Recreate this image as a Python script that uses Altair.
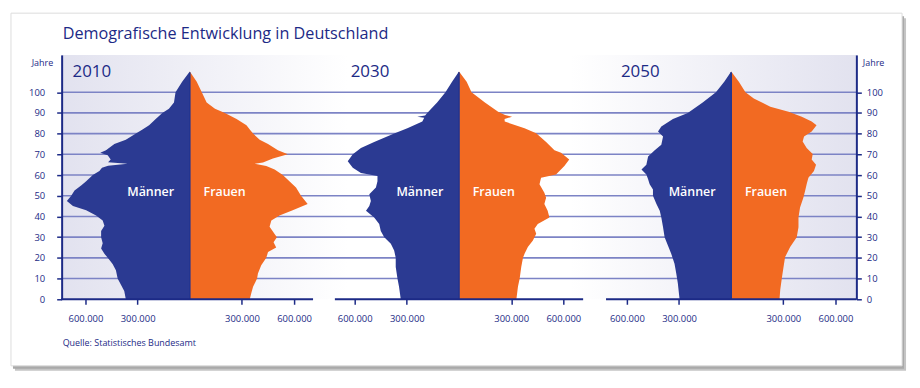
import altair as alt
import pandas as pd

# ---------------- data (population in thousands) ----------------
years = ["2010", "2030", "2050"]

ages_m_2010 = [0, 4, 7, 10, 14, 17, 20, 22, 24.5, 27, 30, 33, 35.5, 38, 40.5, 43, 45, 47.5, 50, 52.5,
               55, 57, 60, 62, 63.5, 64.5, 65.4, 66.2, 67.5, 69.5, 70.7, 72, 75, 77, 80, 82, 84, 87,
               90, 92, 95, 100, 105, 110]
men_2010 = [368, 377, 396, 415, 425, 444, 472, 491, 510, 501, 510, 510, 491, 501, 539, 596, 672, 707, 682, 663,
            625, 596, 558, 520, 505, 470, 358, 470, 455, 472, 515, 482, 434, 368, 310, 272, 234, 196,
            158, 120, 91, 82, 44, 0]

ages_f_2010 = [0, 3, 6, 10, 12.4, 16.4, 20, 22.8, 25, 27.6, 30, 35, 38, 40.4, 43, 46, 50, 54, 57, 60,
               62.7, 64.3, 65.4, 66, 68, 70, 72, 75, 77, 80, 82, 84, 87, 90, 92, 95, 100, 105, 110]
women_2010 = [345, 354, 364, 387, 392, 411, 440, 450, 497, 482, 501, 459, 469, 516, 592, 678, 640, 611, 573, 535,
              488, 440, 373, 421, 478, 564, 507, 450, 402, 364, 345, 326, 269, 202, 145, 97, 69, 40, 0]

ages_m_2030 = [0, 6, 10, 15.6, 20, 23.6, 26.8, 30, 33, 36.4, 39.5, 42.7, 45, 47.5, 50.7, 54, 57, 59.5,
               61, 63.5, 66.7, 70, 73, 76, 80, 82.6, 85.8, 87.6, 88.2, 88.8, 90, 95, 100, 105, 110]
men_2030 = [335, 345, 354, 364, 364, 373, 392, 430, 450, 459, 488, 535, 516, 507, 516, 478, 469, 469,
            564, 611, 640, 611, 564, 488, 373, 297, 211, 200, 240, 195, 183, 126, 78, 40, 0]

ages_f_2030 = [0, 6, 10, 15.6, 20, 22, 25.2, 28.4, 31.6, 34, 36.4, 39.5, 42.7, 46, 49, 51.5, 55.5, 58.7,
               60.3, 64.3, 67.5, 70.7, 72, 76, 80.2, 82.6, 85.8, 87, 88.2, 89, 90.6, 95, 100, 105, 110]
women_2030 = [330, 339, 349, 358, 368, 377, 396, 425, 444, 434, 453, 520, 510, 491, 501, 491, 463, 472,
              558, 606, 634, 587, 549, 501, 444, 377, 263, 262, 305, 265, 225, 149, 72, 44, 0]

ages_m_2050 = [0, 7.7, 12.4, 17.2, 22, 26, 30, 34.8, 39.5, 42.7, 46, 50, 53, 55.5, 58, 60.3, 62.7, 65,
               69, 72, 74.6, 78.6, 81, 83.4, 87, 90, 95, 100, 105, 110]
men_2050 = [297, 307, 316, 326, 345, 364, 383, 392, 402, 411, 430, 450, 450, 469, 478, 488, 516, 488,
            478, 440, 402, 392, 421, 402, 335, 250, 164, 88, 40, 0]

ages_f_2050 = [0, 4.5, 10, 15.6, 20.4, 25.2, 30, 34.8, 39.5, 44.3, 49, 52.3, 55.5, 58.7, 62, 65, 67.5,
               70.2, 73, 76.2, 78.6, 81, 84, 85.8, 88.2, 90.6, 93, 97, 100, 105, 110]
women_2050 = [278, 282, 291, 301, 310, 339, 377, 387, 387, 396, 415, 425, 434, 444, 476, 488, 463,
              469, 434, 411, 419, 463, 491, 463, 406, 330, 225, 130, 82, 44, 0]

x_tick_values = [300, 600]          # thousands
y_tick_values = list(range(0, 101, 10))
sexes = ["Männer", "Frauen"]

# ---------------- layout / style ----------------
W, H = 800, 246
X_MAX = 4571.4                       # data units across the plot width
centers = {"2010": 737.1, "2030": 2285.7, "2050": 3851.4}
base_ext = {"2010": (740, 709), "2030": (714, 714), "2050": (720, 720)}
Y_MAX = 118

NAVY = "#1c2a86"
BLUE = "#2b3a92"
ORANGE = "#f26a22"
GRID = "#7c83c5"
FONT = "Open Sans"

series = {
    "2010": (ages_m_2010, men_2010, ages_f_2010, women_2010),
    "2030": (ages_m_2030, men_2030, ages_f_2030, women_2030),
    "2050": (ages_m_2050, men_2050, ages_f_2050, women_2050),
}

rows = []
for yr, (am, vm, af, vf) in series.items():
    c = centers[yr]
    for a, v in zip(am, vm):
        rows.append({"key": yr + "m", "sex": "Männer", "age": a, "pos": c - v, "base": c})
    for a, v in zip(af, vf):
        rows.append({"key": yr + "f", "sex": "Frauen", "age": a, "pos": c + v, "base": c})
df = pd.DataFrame(rows)

centers_df = pd.DataFrame({"year": years, "base": [centers[y] for y in years],
                           "a0": [0] * 3, "a1": [109.6] * 3})
baseline_df = pd.DataFrame({"year": years,
                            "xl": [centers[y] - base_ext[y][0] for y in years],
                            "xr": [centers[y] + base_ext[y][1] for y in years]})
label_rows = []
for y in years:
    label_rows.append({"t": "Männer", "lx": centers[y] - 225, "age": 52})
    label_rows.append({"t": "Frauen", "lx": centers[y] + 200, "age": 52})
labels_df = pd.DataFrame(label_rows)
grid_df = pd.DataFrame({"g": y_tick_values[1:]})
one = pd.DataFrame({"k": [0]})

xscale = alt.Scale(domain=[0, X_MAX], nice=False, zero=False)
yscale = alt.Scale(domain=[0, Y_MAX], nice=False)

cexpr = ("datum.value < 1511 ? %s : (datum.value < 3068 ? %s : %s)"
         % (centers["2010"], centers["2030"], centers["2050"]))
x_ticks = []
for y in years:
    c = centers[y]
    x_ticks += [c - x_tick_values[1], c - x_tick_values[0], c + x_tick_values[0], c + x_tick_values[1]]

x_axis = alt.Axis(values=x_ticks, labelExpr="format(abs(datum.value - (" + cexpr + ")), '.0f') + '.000'",
                  domain=False, grid=False, ticks=True, tickColor=NAVY, tickWidth=1.5, tickSize=5,
                  labelColor=NAVY, labelFont=FONT, labelFontSize=9.5, labelPadding=9, title=None,
                  zindex=1)

common_y = dict(values=y_tick_values, domain=True, domainColor=NAVY, domainWidth=2, grid=False,
                ticks=True, tickColor=NAVY, tickWidth=1.5, tickSize=5, labelColor=NAVY,
                labelFont=FONT, labelFontSize=9.5, title="Jahre", titleAngle=0, titleFont=FONT,
                titleFontSize=9, titleFontWeight="normal", titleColor=NAVY, titleBaseline="middle",
                titleY=7.5, zindex=1)
left_axis = alt.Axis(orient="left", labelPadding=12, titleX=-9, titleAlign="right", **common_y)
right_axis = alt.Axis(orient="right", labelPadding=5, titleX=6, titleAlign="left", **common_y)

# card with shadow
shadow = alt.Chart(one).mark_rect(fill="#c4c4c4").encode(
    x=alt.value(-47), x2=alt.value(850), y=alt.value(-37), y2=alt.value(318))
shadow2 = alt.Chart(one).mark_rect(fill="#a9a9a9").encode(
    x=alt.value(-49), x2=alt.value(848), y=alt.value(-39), y2=alt.value(316))
card = alt.Chart(one).mark_rect(fill="white", stroke="#dddddd", strokeWidth=1).encode(
    x=alt.value(-51), x2=alt.value(846), y=alt.value(-42), y2=alt.value(313))

# plot-area background
bg = alt.Chart(one).mark_rect(fill={
    "gradient": "linear", "x1": 0, "x2": 1, "y1": 0, "y2": 0,
    "stops": [{"offset": 0, "color": "#e2e2ef"}, {"offset": 0.36, "color": "#ffffff"},
              {"offset": 0.64, "color": "#ffffff"}, {"offset": 1, "color": "#e2e2ef"}]}).encode(
    x=alt.value(0), x2=alt.value(W), y=alt.value(0), y2=alt.value(H))

grid = alt.Chart(grid_df).mark_rule(color=GRID, strokeWidth=1.6).encode(
    y=alt.Y("g:Q", scale=yscale, axis=right_axis), x=alt.value(0), x2=alt.value(W))

areas = alt.Chart(df).mark_area(orient="horizontal", interpolate="linear", opacity=1).encode(
    y=alt.Y("age:Q", scale=yscale, axis=left_axis),
    x=alt.X("pos:Q", scale=xscale, axis=x_axis, stack=None),
    x2="base:Q",
    color=alt.Color("sex:N", scale=alt.Scale(domain=sexes, range=[BLUE, ORANGE]), legend=None),
    detail="key:N",
)

center_rule = alt.Chart(centers_df).mark_rule(color="#233590", strokeWidth=1.6).encode(
    x=alt.X("base:Q", scale=xscale, axis=x_axis),
    y=alt.Y("a0:Q", scale=yscale, axis=None), y2="a1:Q")

baselines = alt.Chart(baseline_df).mark_rule(color=NAVY, strokeWidth=2).encode(
    x=alt.X("xl:Q", scale=xscale, axis=x_axis), x2="xr:Q", y=alt.value(H))

sex_labels = alt.Chart(labels_df).mark_text(color="white", font=FONT, fontSize=12.5, fontWeight=600,
                                            baseline="middle").encode(
    x=alt.X("lx:Q", scale=xscale, axis=x_axis),
    y=alt.Y("age:Q", scale=yscale, axis=None), text="t:N")

year_pos = {"2010": 11, "2030": 291, "2050": 563}
year_layers = [alt.Chart(one).mark_text(text=y, color=NAVY, font=FONT, fontSize=17, align="left",
                                        baseline="middle").encode(x=alt.value(year_pos[y]), y=alt.value(17.5))
               for y in years]

title_txt = alt.Chart(one).mark_text(text="Demografische Entwicklung in Deutschland", color=NAVY,
                                     font=FONT, fontSize=16.3, align="left", baseline="alphabetic").encode(
    x=alt.value(1), y=alt.value(-16))

source = alt.Chart(one).mark_text(text="Quelle: Statistisches Bundesamt", color=NAVY, font=FONT,
                                  fontSize=9, align="left", baseline="middle").encode(
    x=alt.value(1), y=alt.value(290))

chart = alt.layer(shadow, shadow2, card, bg, grid, areas, center_rule, baselines, sex_labels,
                  *year_layers, title_txt, source).resolve_scale(y="independent").properties(
    width=W, height=H,
    autosize=alt.AutoSizeParams(type="none"),
    padding={"left": 54, "top": 46, "right": 56, "bottom": 76},
).configure_view(stroke=None)

chart.save("out.html", embed_options={"renderer": "svg", "actions": False})
